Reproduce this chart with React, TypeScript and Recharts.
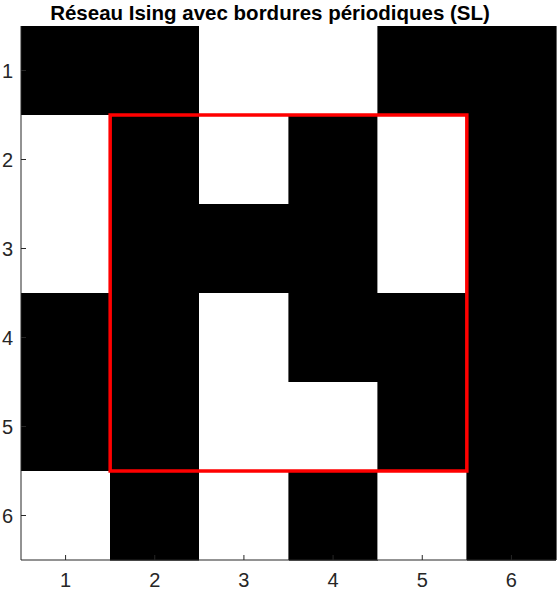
import React from "react";
import {
  ScatterChart,
  Scatter,
  XAxis,
  YAxis,
  ReferenceArea,
} from "recharts";

// spin lattice, row by row (1 = white/up, -1 = black/down)
const row1 = [-1, -1, 1, 1, -1, -1];
const row2 = [1, -1, 1, -1, 1, -1];
const row3 = [1, -1, -1, -1, 1, -1];
const row4 = [-1, -1, 1, -1, -1, -1];
const row5 = [-1, -1, 1, 1, -1, -1];
const row6 = [1, -1, 1, -1, 1, -1];
const lattice = [row1, row2, row3, row4, row5, row6];

const tickValues = [1, 2, 3, 4, 5, 6];
// inner (non-periodic) region outlined in red
const innerBox = { from: 1.5, to: 5.5 };

const cells = lattice.flatMap((row, r) =>
  row.map((spin, c) => ({ x: c + 1, y: r + 1, spin }))
);

const AXIS = "#262626";
const FONT = "'Liberation Sans', Arial, sans-serif";

const BottomTick = (props: any) => {
  const { x, y, payload } = props;
  return (
    <g>
      <line x1={x} y1={y} x2={x} y2={y - 5} stroke={AXIS} />
      <text x={x} y={y + 27} textAnchor="middle" fill={AXIS} fontSize={20} fontFamily={FONT}>
        {payload.value}
      </text>
    </g>
  );
};

const TopTick = (props: any) => {
  const { x, y } = props;
  return <line x1={x} y1={y} x2={x} y2={y + 5} stroke={AXIS} />;
};

const LeftTick = (props: any) => {
  const { x, y, payload } = props;
  return (
    <g>
      <line x1={x} y1={y} x2={x + 5} y2={y} stroke={AXIS} />
      <text x={x - 8} y={y + 7.5} textAnchor="end" fill={AXIS} fontSize={20} fontFamily={FONT}>
        {payload.value}
      </text>
    </g>
  );
};

const RightTick = (props: any) => {
  const { x, y } = props;
  return <line x1={x} y1={y} x2={x - 5} y2={y} stroke={AXIS} />;
};

export default function App() {
  return (
    <div style={{ position: "absolute", left: 0, top: 0, width: 559, height: 590, background: "#fff" }}>
      <div
        style={{
          position: "absolute",
          left: 0,
          width: 540,
          top: 0,
          textAlign: "center",
          fontFamily: FONT,
          fontWeight: "bold",
          fontSize: 20.5,
          lineHeight: "26px",
          color: "#000",
          zIndex: 1,
        }}
      >
        Réseau Ising avec bordures périodiques (SL)
      </div>
      <ScatterChart width={559} height={590} margin={{ top: 26, right: 3, bottom: 0, left: 0 }}>
        <XAxis
          xAxisId="b"
          type="number"
          dataKey="x"
          domain={[0.5, 6.5]}
          ticks={tickValues}
          height={30}
          tickLine={false}
          tickSize={0}
          tickMargin={0}
          axisLine={{ stroke: AXIS }}
          tick={<BottomTick />}
          allowDataOverflow
        />
        <XAxis
          xAxisId="t"
          orientation="top"
          type="number"
          dataKey="x"
          domain={[0.5, 6.5]}
          ticks={tickValues}
          height={0}
          tickLine={false}
          tickSize={0}
          tickMargin={0}
          axisLine={{ stroke: AXIS }}
          tick={<TopTick />}
          allowDataOverflow
        />
        <YAxis
          yAxisId="l"
          type="number"
          dataKey="y"
          domain={[0.5, 6.5]}
          ticks={tickValues}
          reversed
          width={21}
          tickLine={false}
          tickSize={0}
          tickMargin={0}
          axisLine={{ stroke: AXIS }}
          tick={<LeftTick />}
          allowDataOverflow
        />
        <YAxis
          yAxisId="r"
          orientation="right"
          type="number"
          dataKey="y"
          domain={[0.5, 6.5]}
          ticks={tickValues}
          reversed
          width={0}
          tickLine={false}
          tickSize={0}
          tickMargin={0}
          axisLine={{ stroke: AXIS }}
          tick={<RightTick />}
          allowDataOverflow
        />
        {cells.map((c) => (
          <ReferenceArea
            key={`${c.x}-${c.y}`}
            xAxisId="b"
            yAxisId="l"
            x1={c.x - 0.5}
            x2={c.x + 0.5}
            y1={c.y - 0.5}
            y2={c.y + 0.5}
            fill={c.spin < 0 ? "#000" : "#fff"}
            fillOpacity={1}
            stroke={c.spin < 0 ? "#000" : "#fff"}
            strokeWidth={0.6}
            shapeRendering="crispEdges"
          />
        ))}
        <ReferenceArea
          xAxisId="b"
          yAxisId="l"
          x1={innerBox.from}
          x2={innerBox.to}
          y1={innerBox.from}
          y2={innerBox.to}
          fill="none"
          stroke="#ff0000"
          strokeWidth={3.5}
          strokeOpacity={1}
        />
        <Scatter
          xAxisId="b"
          yAxisId="l"
          data={cells}
          shape={() => null}
          isAnimationActive={false}
        />
      </ScatterChart>
    </div>
  );
}
